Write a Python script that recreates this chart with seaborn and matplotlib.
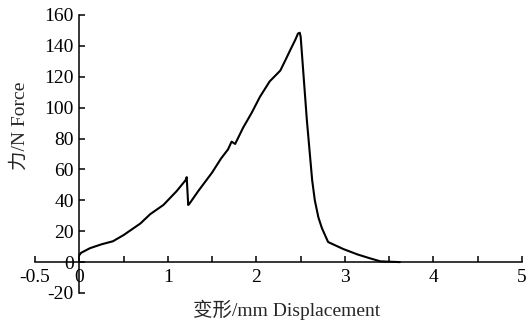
import matplotlib
matplotlib.use("Agg")
import matplotlib.pyplot as plt
import seaborn as sns
import pandas as pd

# load-displacement curve
displacement = [0.0, 0.02, 0.12, 0.25, 0.38, 0.5, 0.69, 0.8, 0.95, 1.1, 1.2, 1.213,
                1.23, 1.24, 1.35, 1.5, 1.6, 1.68, 1.72, 1.76, 1.85, 1.95, 2.04, 2.15,
                2.27, 2.33, 2.38, 2.44, 2.47, 2.49, 2.5, 2.57, 2.63, 2.66, 2.7, 2.74,
                2.81, 2.98, 3.14, 3.28, 3.4, 3.62]
force = [4.5, 6, 9, 11.5, 13.5, 17.5, 25, 31, 37, 46, 53, 55,
         37, 37.5, 46.5, 58, 67, 73, 78, 76.5, 87, 97, 107, 117,
         124, 131, 137, 144, 148, 148.5, 146, 92, 53, 40, 29, 22,
         13, 8.5, 5, 2.5, 0.5, 0]

x_ticks = [-0.5, 0, 0.5, 1, 1.5, 2, 2.5, 3, 3.5, 4, 4.5, 5]
x_labels = ['-0.5', '0', '', '1', '', '2', '', '3', '', '4', '', '5']
y_ticks = list(range(-20, 161, 20))

df = pd.DataFrame({'disp': displacement, 'force': force})

sns.set_style("ticks")
plt.rcParams['font.family'] = ['Liberation Serif', 'Noto Sans CJK SC']
plt.rcParams['axes.unicode_minus'] = False

fig = plt.figure(figsize=(5.29, 3.23), dpi=100)
ax = fig.add_axes([0.0662, 0.0929, 0.9206, 0.8607])

sns.lineplot(data=df, x='disp', y='force', ax=ax, color='black', linewidth=1.5,
             sort=False, estimator=None)

ax.set_xlim(-0.5, 5)
ax.set_ylim(-20, 160)
ax.spines['left'].set_position(('data', 0))
ax.spines['bottom'].set_position(('data', 0))
ax.spines['top'].set_visible(False)
ax.spines['right'].set_visible(False)
for s in ('left', 'bottom'):
    ax.spines[s].set_linewidth(1.1)
    ax.spines[s].set_color('black')

ax.set_xticks(x_ticks)
ax.set_xticklabels(x_labels)
ax.set_yticks(y_ticks)
ax.tick_params(axis='both', direction='in', length=4, width=1.1, colors='black',
               labelsize=14)
ax.tick_params(axis='x', pad=5)
ax.tick_params(axis='y', pad=4)

ax.set_xlabel('变形/mm Displacement', fontsize=14)
ax.set_ylabel('力/N Force', fontsize=14)
ax.xaxis.set_label_coords(0.517, -0.061)
ax.xaxis.label.set_va('center')
ax.yaxis.set_label_coords(-0.031, 0.60)
ax.yaxis.label.set_va('center')

fig.savefig('out.png', dpi=100)
